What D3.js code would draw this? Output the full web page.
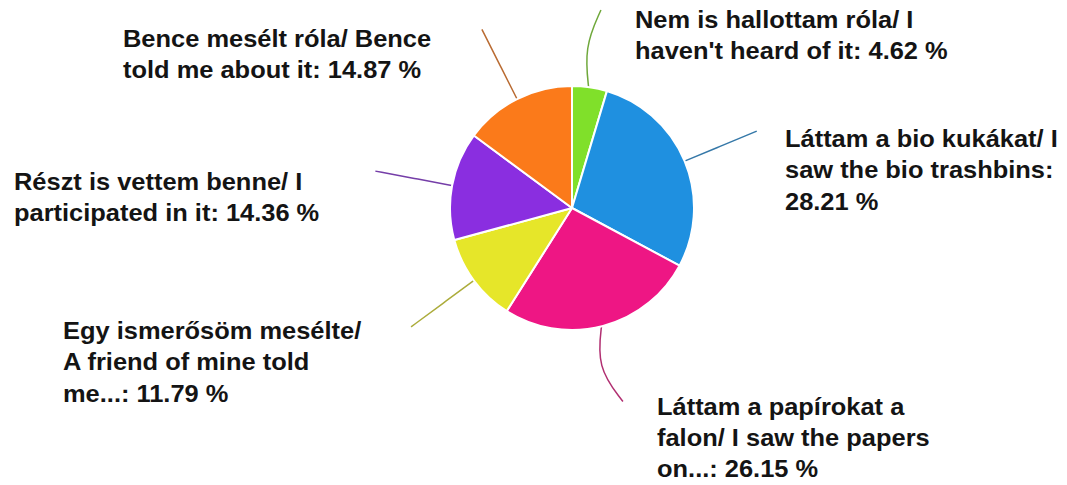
<!DOCTYPE html>
<html>
<head>
<meta charset="utf-8">
<script src="https://cdn.jsdelivr.net/npm/d3@7"></script>
<style>
  body { margin: 0; background: #fff; }
  svg { display: block; }
</style>
</head>
<body>
<div id="chart"></div>
<script>
// Slices, clockwise from 12 o'clock
const categories = [
    ["Nem is hallottam róla/ I", "haven't heard of it: 4.62 %"],
    ["Láttam a bio kukákat/ I", "saw the bio trashbins:", "28.21 %"],
    ["Láttam a papírokat a", "falon/ I saw the papers", "on...: 26.15 %"],
    ["Egy ismerősöm mesélte/", "A friend of mine told", "me...: 11.79 %"],
    ["Részt is vettem benne/ I", "participated in it: 14.36 %"],
    ["Bence mesélt róla/ Bence", "told me about it: 14.87 %"]
];
const values = [4.62, 28.21, 26.15, 11.79, 14.36, 14.87];
const colors = ["#80e02a", "#1f90e0", "#ee1684", "#e6e629", "#8a2ee0", "#fb7a1a"];

// label block anchor (left x, first baseline), page pixels
const labelPos = [[635, 27.5], [785, 147], [657, 414.5], [63, 339], [14, 190], [123, 47]];
// slight bend of a few leader lines, degrees
const bend = [-4, 0, 6, 0, 0, 0];

const width = 1067, height = 485;
const cx = 572, cy = 208, radius = 122;

const svg = d3.select("#chart").append("svg")
    .attr("width", width)
    .attr("height", height);

const g = svg.append("g").attr("transform", `translate(${cx},${cy})`);

const pie = d3.pie().sort(null).value(d => d);
const arcs = pie(values);

const arc = d3.arc().innerRadius(0).outerRadius(radius);

// leader lines (drawn first, slices cover their inner end)
const lineColor = c => d3.interpolateRgb(c, "#555")(0.4);
const polar = (ang, r) => [Math.sin(ang) * r, -Math.cos(ang) * r];
const leader = d3.line().curve(d3.curveBasis);
arcs.forEach((a, i) => {
    const mid = (a.startAngle + a.endAngle) / 2;
    const b = bend[i] * Math.PI / 180;
    const pts = [
        polar(mid, radius - 4),
        polar(mid + b, radius * 1.32),
        polar(mid, radius * 1.64)
    ];
    g.append("path")
        .attr("d", leader(pts))
        .attr("fill", "none")
        .attr("stroke", lineColor(colors[i]))
        .attr("stroke-width", 1.5);
});

g.selectAll("path.slice")
    .data(arcs)
    .enter()
    .append("path")
    .attr("class", "slice")
    .attr("d", arc)
    .attr("fill", (d, i) => colors[i])
    .attr("stroke", "#fff")
    .attr("stroke-width", 2)
    .attr("stroke-linejoin", "round");

// labels (source text is a touch wider than Liberation Sans, so stretch a bit)
const lineH = 31.5;
const stretch = 1.06;
categories.forEach((lines, i) => {
    const t = svg.append("text")
        .attr("transform", `translate(${labelPos[i][0]},${labelPos[i][1]}) scale(${stretch},1)`)
        .attr("font-family", "'Liberation Sans', Arial, sans-serif")
        .attr("font-weight", "bold")
        .attr("font-size", 24)
        .attr("fill", "#141414");
    lines.forEach((s, j) => {
        t.append("tspan")
            .attr("x", 0)
            .attr("dy", j === 0 ? 0 : lineH)
            .text(s);
    });
});
</script>
</body>
</html>
